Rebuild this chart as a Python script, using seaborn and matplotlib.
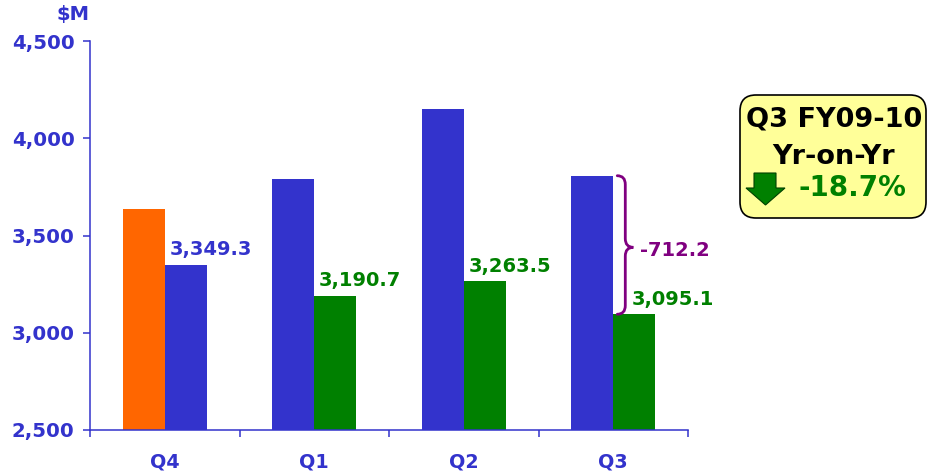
import numpy as np
import pandas as pd
import matplotlib
matplotlib.use("Agg")
import matplotlib.pyplot as plt
import seaborn as sns
from matplotlib.path import Path
from matplotlib.patches import PathPatch, FancyBboxPatch, Polygon
from matplotlib.ticker import FuncFormatter, FixedLocator

# ---------------------------------------------------------------------------
# Data ($M)
# ---------------------------------------------------------------------------
quarters = ["Q4", "Q1", "Q2", "Q3"]
prior_year = [3636.0, 3790.0, 4150.0, 3807.3]
current_year = [3349.3, 3190.7, 3263.5, 3095.1]
prior_colors = ["#FF6600", "#3333CC", "#3333CC", "#3333CC"]
current_colors = ["#3333CC", "#008000", "#008000", "#008000"]
label_colors = ["#3333CC", "#008000", "#008000", "#008000"]
yoy_change = -712.2
yoy_pct = "-18.7%"
box_lines = ["Q3 FY09-10", "Yr-on-Yr"]

BLUE = "#3333CC"
GREEN = "#008000"
PURPLE = "#800080"

df = pd.DataFrame({
    "quarter": quarters * 2,
    "value": prior_year + current_year,
    "series": ["prior"] * 4 + ["current"] * 4,
})

sns.set_style("white")
plt.rcParams["font.family"] = ["DejaVu Sans"]
plt.rcParams["font.weight"] = "bold"

fig = plt.figure(figsize=(9.32, 4.76), dpi=100)
ax = fig.add_axes([90 / 932, 1 - 430 / 476, 598 / 932, 389 / 476])

sns.barplot(data=df, x="quarter", y="value", hue="series", order=quarters,
            hue_order=["prior", "current"], width=0.56, gap=0,
            palette=[BLUE, GREEN], legend=False, ax=ax, saturation=1)

# recolour bars individually
for bar, c in zip(ax.containers[0], prior_colors):
    bar.set_facecolor(c)
    bar.set_edgecolor("none")
for bar, c in zip(ax.containers[1], current_colors):
    bar.set_facecolor(c)
    bar.set_edgecolor("none")

ax.set_xlim(-0.5, 3.5)
ax.set_ylim(2500, 4500)
ax.set_yticks(np.arange(2500, 4501, 500))
ax.yaxis.set_major_formatter(FuncFormatter(lambda v, p: f"{v:,.0f}"))
ax.set_xlabel("")
ax.set_ylabel("")

for s in ["top", "right"]:
    ax.spines[s].set_visible(False)
for s in ["left", "bottom"]:
    ax.spines[s].set_color(BLUE)
    ax.spines[s].set_linewidth(1.1)

ax.tick_params(axis="y", which="major", direction="out", length=5, width=1.1,
               color=BLUE, labelcolor=BLUE, labelsize=14.2, pad=6, left=True)
ax.xaxis.set_minor_locator(FixedLocator(np.arange(-0.5, 3.6, 1)))
ax.tick_params(axis="x", which="minor", direction="out", length=5, width=1.1,
               color=BLUE, bottom=True)
ax.tick_params(axis="x", which="major", length=0, labelcolor=BLUE,
               labelsize=13.8, pad=16)
for lab in ax.get_xticklabels() + ax.get_yticklabels():
    lab.set_fontweight("bold")

ax.annotate("$M", xy=(0, 1), xycoords="axes fraction", xytext=(0, 19),
            textcoords="offset points", ha="right", va="center",
            color=BLUE, fontsize=14, fontweight="bold")

# value labels above the current-year bars
for i, bar in enumerate(ax.containers[1]):
    dx = 13 if i == 3 else 3.5
    ax.annotate(f"{current_year[i]:,.1f}", xy=(bar.get_x(), bar.get_height()),
                xytext=(dx, 7), textcoords="offset points", ha="left",
                va="baseline", color=label_colors[i], fontsize=14,
                fontweight="bold")

# curly brace between Q3 bars
ytop = prior_year[3]
ybot = current_year[3]
ymid = (ytop + ybot) / 2 - 12
x0 = 3 + 4 / 149
x1 = 3 + 12 / 149
x2 = 3 + 20 / 149
r = 45
verts = [(x0, ytop), (x1, ytop), (x1, ytop - r),
         (x1, ymid + r), (x1, ymid), (x2, ymid),
         (x1, ymid), (x1, ymid - r),
         (x1, ybot + r), (x1, ybot), (x0, ybot)]
codes = [Path.MOVETO, Path.CURVE3, Path.CURVE3,
         Path.LINETO, Path.CURVE3, Path.CURVE3,
         Path.CURVE3, Path.CURVE3,
         Path.LINETO, Path.CURVE3, Path.CURVE3]
ax.add_patch(PathPatch(Path(verts, codes), facecolor="none", edgecolor=PURPLE,
                       lw=2.0, clip_on=False, capstyle="round"))
ax.annotate(f"{yoy_change:.1f}", xy=(x2, ymid), xytext=(5, -2),
            textcoords="offset points", ha="left", va="center",
            color=PURPLE, fontsize=14, fontweight="bold", annotation_clip=False)

# Yr-on-Yr callout box (figure inches)
tr = fig.dpi_scale_trans
fig.patches.append(FancyBboxPatch((7.40, 2.58), 1.86, 1.23,
                                  boxstyle="round,pad=0,rounding_size=0.16",
                                  facecolor="#FFFF99", edgecolor="black",
                                  lw=1.2, transform=tr, figure=fig))
for line, yy in zip(box_lines, [3.56, 3.19]):
    fig.text(8.34, yy, line, transform=tr, ha="center", va="center",
             fontsize=19.5, fontweight="bold", color="black")
arrow = Polygon([(7.54, 3.03), (7.76, 3.03), (7.76, 2.88), (7.85, 2.88),
                 (7.655, 2.71), (7.46, 2.88), (7.54, 2.88)], closed=True,
                facecolor=GREEN, edgecolor="#004000", lw=0.8, transform=tr,
                figure=fig)
fig.patches.append(arrow)
fig.text(7.98, 2.88, yoy_pct, transform=tr, ha="left", va="center",
         fontsize=20, fontweight="bold", color=GREEN)

fig.savefig("out.png", dpi=100)
